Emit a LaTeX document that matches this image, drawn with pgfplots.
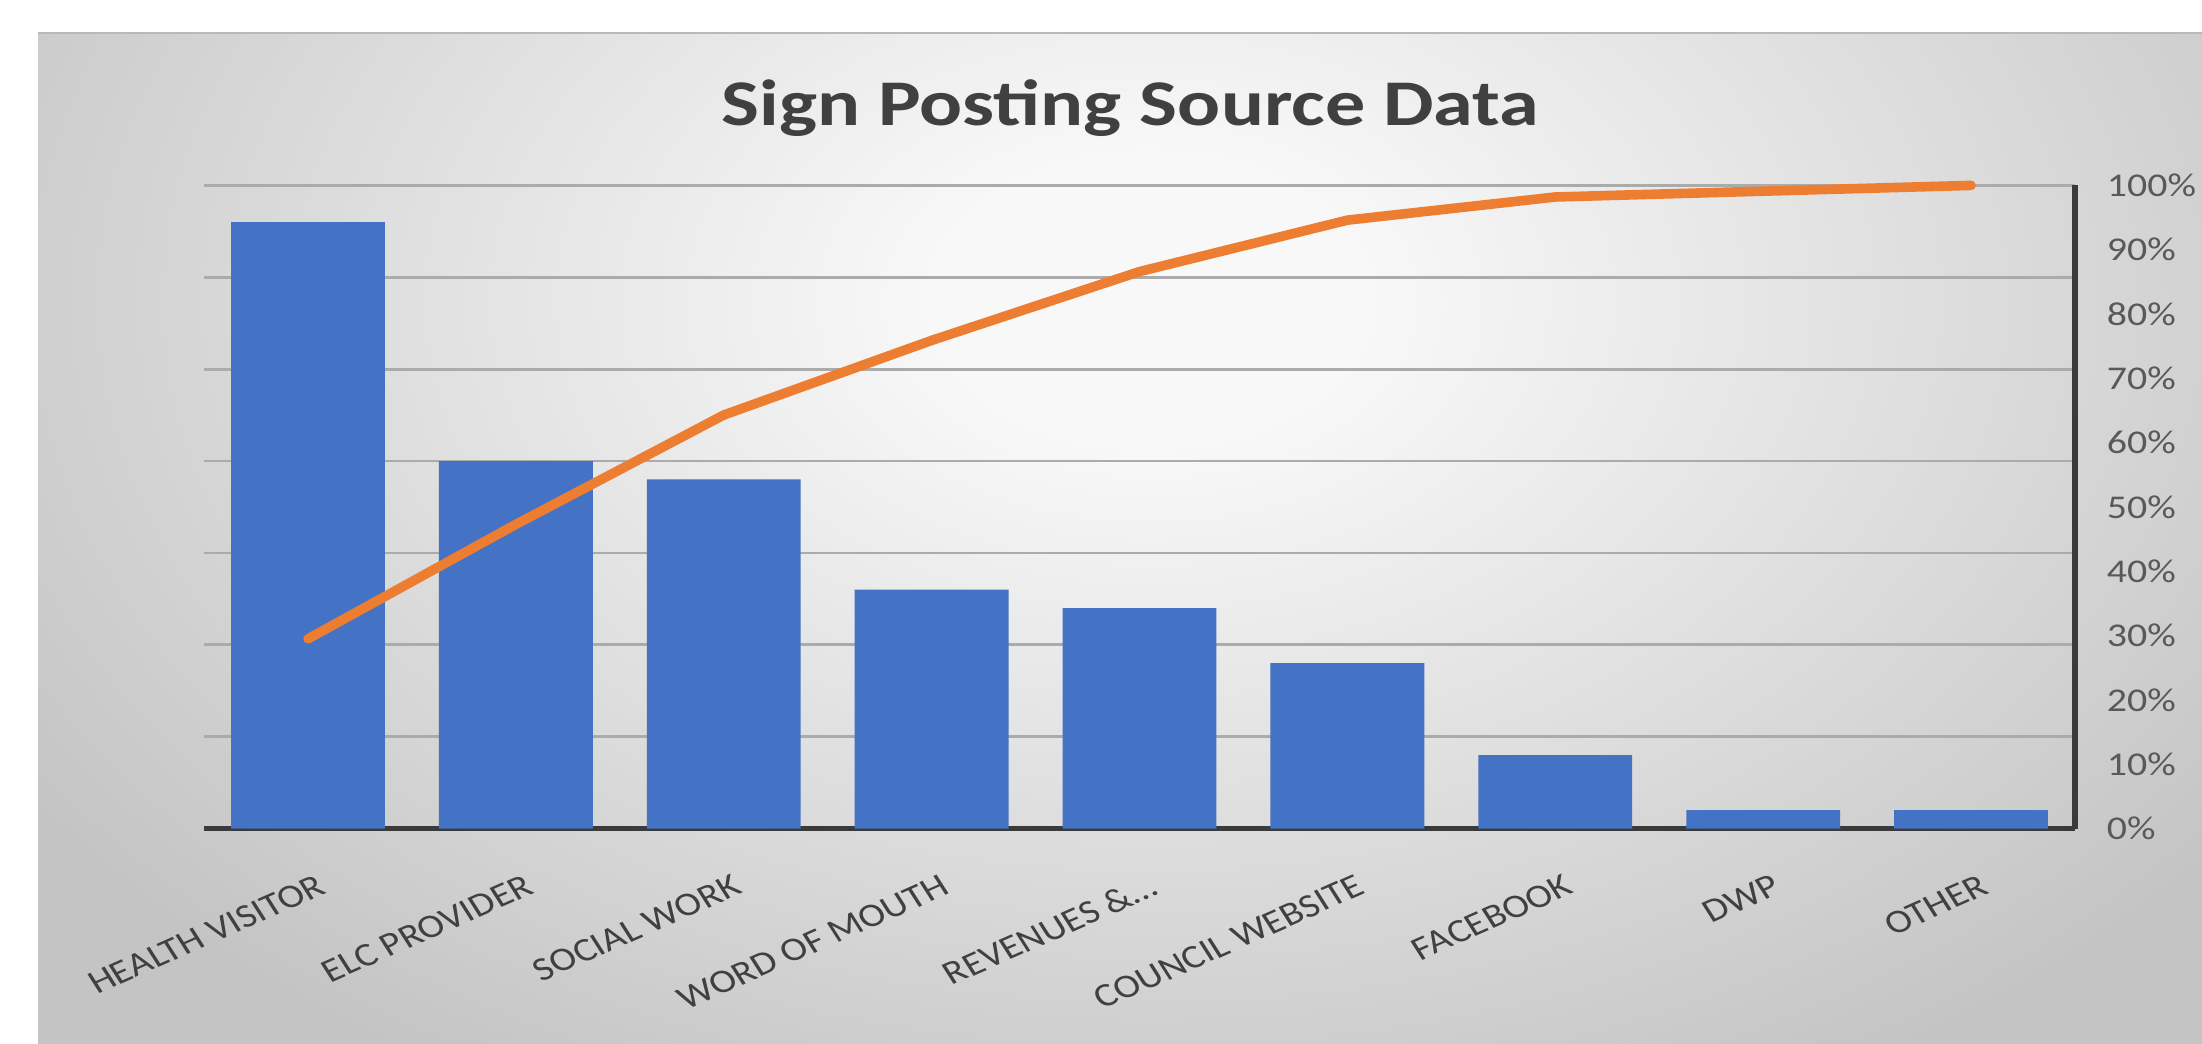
\documentclass[border=0pt]{standalone}
\usepackage{pgfplots}
\pgfplotsset{compat=1.18}
\usepackage{pgfplotstable}
\usepackage{fontspec}
\setmainfont{Carlito}
\definecolor{barblue}{HTML}{4472C4}
\definecolor{lineorange}{HTML}{ED7D31}
\definecolor{txtgray}{HTML}{404040}
\definecolor{ticktxt}{HTML}{595959}
\definecolor{gridgray}{HTML}{ABABAB}
\definecolor{axisdark}{HTML}{3A3A3A}
\definecolor{bgin}{HTML}{F8F8F8}
\definecolor{bgout}{HTML}{C4C4C4}
\pgfdeclareradialshading{bgshade}{\pgfpoint{0bp}{0bp}}{color(0bp)=(bgin); color(4bp)=(bgin); color(25bp)=(bgout); color(50bp)=(bgout)}

\pgfplotstableread{
idx count cum
0 33 29.5
1 20 47.3
2 19 64.3
3 13 75.9
4 12 86.6
5 9 94.6
6 4 98.2
7 1 99.1
8 1 100
}\datatable

\begin{document}
\begin{tikzpicture}
\useasboundingbox (0,0) rectangle (550.5pt,260.75pt);
\fill[white] (0,0) rectangle (550.5pt,260.75pt);
\begin{scope}
\clip (9.5pt,-2pt) rectangle (552pt,252.5pt);
\fill[bgout] (9.5pt,-2pt) rectangle (552pt,252.5pt);
\shade[shading=bgshade] (287.5pt,185.75pt) ellipse [x radius=337.5pt, y radius=225pt];
\end{scope}
\draw[gray!55, line width=0.6pt] (9.5pt,252.5pt) -- (552pt,252.5pt);
\node[anchor=base, font=\fontsize{16.3}{20}\selectfont\bfseries, text=txtgray, xscale=1.23, inner sep=0pt] at (282.6pt,229.5pt) {Sign Posting Source Data};

\begin{axis}[
  at={(51pt,53.6pt)}, anchor=south west,
  scale only axis, width=467.75pt, height=160.8pt,
  xmin=-0.5, xmax=8.5, ymin=0, ymax=35,
  xtick={0,...,8},
  xticklabels={HEALTH VISITOR, ELC PROVIDER, SOCIAL WORK, WORD OF MOUTH, REVENUES \&…, COUNCIL WEBSITE, FACEBOOK, DWP, OTHER},
  ytick={0,5,...,35}, yticklabels={},
  ymajorgrids, grid style={gridgray, line width=0.7pt},
  axis lines*=left,
  y axis line style={draw=none},
  x axis line style={axisdark, line width=1.3pt},
  major tick length=0pt, tick style={draw=none},
  xticklabel style={font=\fontsize{8.3}{10}\selectfont, text=txtgray, anchor=north east, inner sep=0pt, xshift=2pt, yshift=-11pt, xscale=1.2, rotate=28},
  clip=false,
]
\addplot[ybar, bar width=0.74, fill=barblue, draw=none]
  table[x=idx, y=count] {\datatable};
\end{axis}

\begin{axis}[
  at={(51pt,53.6pt)}, anchor=south west,
  scale only axis, width=467.75pt, height=160.8pt,
  xmin=-0.5, xmax=8.5, ymin=0, ymax=100,
  axis x line=none, axis y line*=right,
  y axis line style={axisdark, line width=1.3pt},
  ytick={0,10,...,100},
  yticklabels={0\%,10\%,20\%,30\%,40\%,50\%,60\%,70\%,80\%,90\%,100\%},
  major tick length=0pt, tick style={draw=none},
  yticklabel style={font=\fontsize{8.3}{10}\selectfont, text=ticktxt, anchor=west, inner sep=0pt, xshift=7.75pt, xscale=1.2},
  clip=false,
]
\addplot[lineorange, line width=2.4pt, line cap=round, line join=round] table[x=idx, y=cum] {\datatable};
\end{axis}
\end{tikzpicture}
\end{document}
